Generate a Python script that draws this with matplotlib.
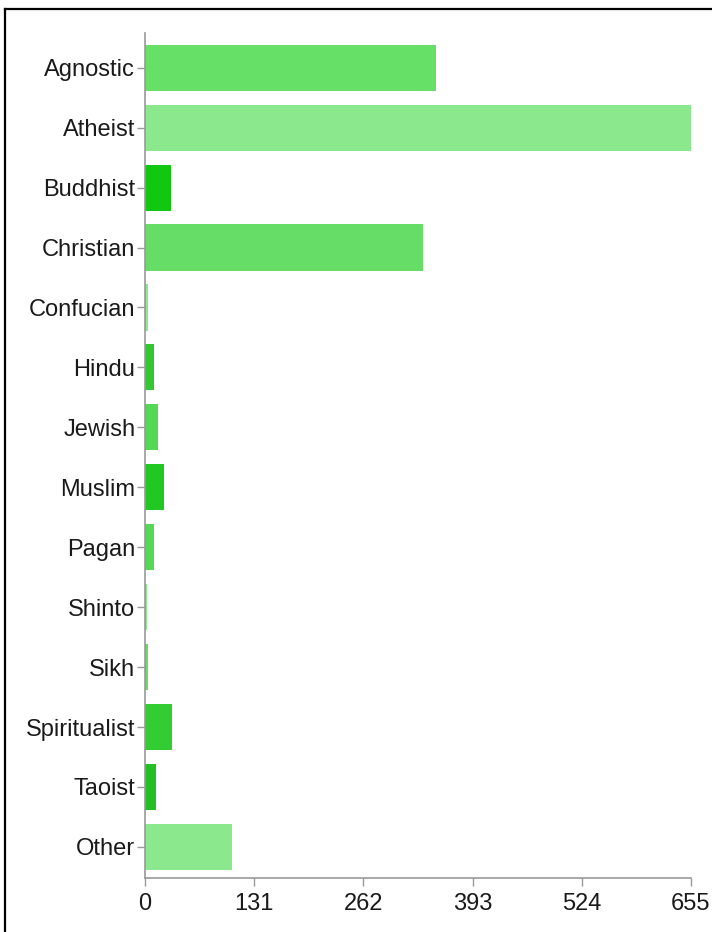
import numpy as np
import matplotlib.pyplot as plt
from matplotlib.lines import Line2D

plt.rcParams['font.family'] = ['Liberation Sans', 'DejaVu Sans']

religions = ['Agnostic', 'Atheist', 'Buddhist', 'Christian', 'Confucian', 'Hindu',
             'Jewish', 'Muslim', 'Pagan', 'Shinto', 'Sikh', 'Spiritualist',
             'Taoist', 'Other']
counts = [349, 655, 31, 333, 3, 11, 15, 23, 11, 2, 3, 32, 13, 104]
colores = ['#66e066', '#8ce88c', '#11c811', '#66dd66', '#8ce88c', '#33c833',
           '#55d955', '#22c822', '#55d955', '#8ce88c', '#66dd66', '#33cc33',
           '#22c022', '#8ce88c']
xticks = [0, 131, 262, 393, 524, 655]

fig = plt.figure(figsize=(7.12, 9.32), dpi=100)
ax = fig.add_axes([0.2037, 0.0579, 0.7668, 0.9067])

pos = np.arange(len(religions))
ax.barh(pos, counts, height=0.77, color=colores)

ax.set_ylim(13.52, -0.58)
ax.set_xlim(0, 655)
ax.set_yticks(pos)
ax.set_yticklabels(religions)
ax.set_xticks(xticks)
ax.set_xticklabels([str(t) for t in xticks])

for s in ['top', 'right']:
    ax.spines[s].set_visible(False)
for s in ['left', 'bottom']:
    ax.spines[s].set_color('#999999')
    ax.spines[s].set_linewidth(1.2)
ax.tick_params(axis='both', colors='#999999', labelcolor='#1a1a1a',
               labelsize=17, length=6, width=1)
ax.tick_params(axis='y', pad=1)
ax.tick_params(axis='x', pad=5)

# marco negro arriba y a la izquierda
fig.add_artist(Line2D([5 / 712, 5 / 712], [0, 1 - 9 / 932], color='black', lw=1.6))
fig.add_artist(Line2D([5 / 712, 1], [1 - 9 / 932, 1 - 9 / 932], color='black', lw=1.6))

fig.savefig('out.png', dpi=100)
